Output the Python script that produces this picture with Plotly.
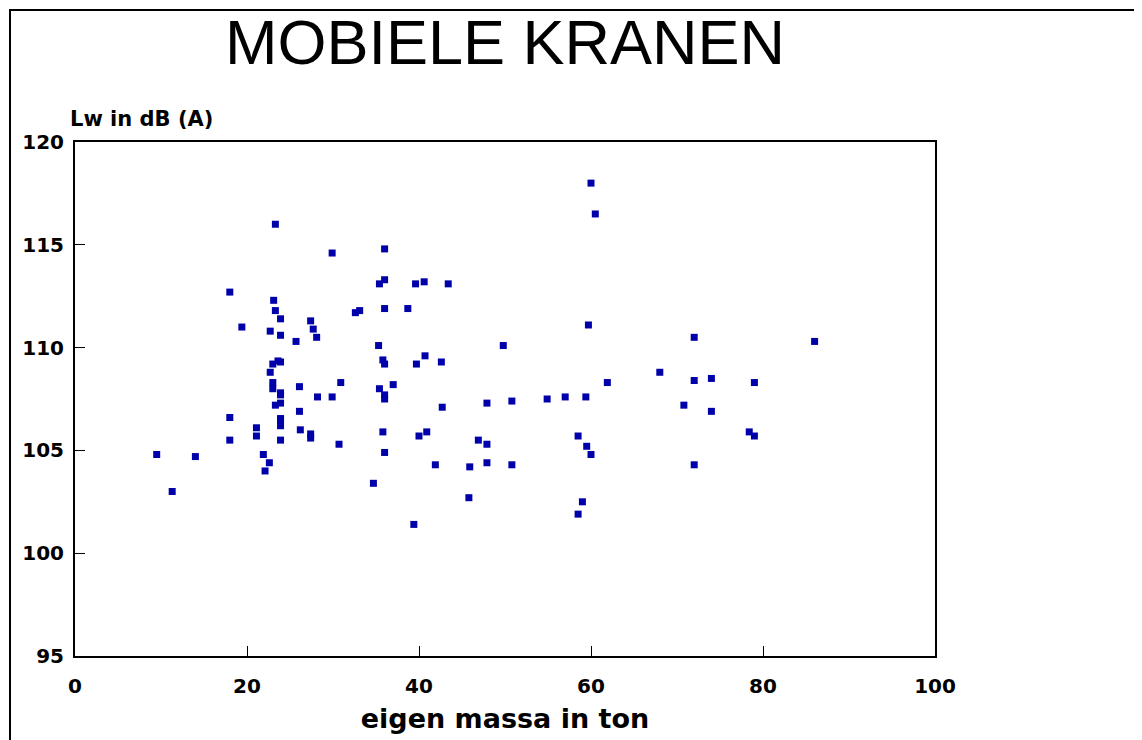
import plotly.graph_objects as go

# eigen massa (ton) en geluidvermogen Lw in dB(A)
massa = [
    9.5, 11.3, 14.0, 18.0, 18.0, 18.0, 19.4, 21.1, 21.1, 21.9,
    22.1, 22.6, 22.7, 22.7, 23.0, 23.0, 23.0, 23.1, 23.3, 23.3,
    23.3, 23.6, 23.9, 23.9, 23.9, 23.9, 23.9, 23.9, 23.9, 23.9,
    23.9, 23.9, 25.7, 26.1, 26.1, 26.2, 27.4, 27.4, 27.4, 27.7,
    28.1, 28.2, 29.9, 29.9, 30.7, 30.9, 32.6, 33.1, 34.7, 35.3,
    35.4, 35.4, 35.8, 35.8, 36.0, 36.0, 36.0, 36.0, 36.0, 36.0,
    36.0, 37.0, 38.7, 39.4, 39.6, 39.7, 40.0, 40.6, 40.7, 40.9,
    41.9, 42.6, 42.7, 43.4, 45.8, 45.9, 46.9, 47.9, 47.9, 47.9,
    49.8, 50.8, 50.8, 54.9, 57.0, 58.5, 58.5, 59.0, 59.4, 59.5,
    59.7, 60.0, 60.0, 60.5, 61.9, 68.0, 70.8, 72.0, 72.0, 72.0,
    74.0, 74.0, 78.4, 79.0, 79.0, 86.0,
]
lw = [
    104.8, 103.0, 104.7, 112.7, 106.6, 105.5, 111.0, 106.1, 105.7, 104.8,
    104.0, 104.4, 110.8, 108.8, 109.2, 108.3, 108.0, 112.3, 116.0, 111.8,
    107.2, 109.35, 109.3, 111.4, 110.6, 107.8, 107.3, 107.7, 106.55, 106.5,
    106.2, 105.5, 110.3, 108.1, 106.9, 106.0, 111.3, 105.8, 105.6, 110.9,
    110.5, 107.6, 114.6, 107.6, 105.3, 108.3, 111.7, 111.8, 103.4, 110.1,
    113.1, 108.0, 109.4, 105.9, 114.8, 113.3, 111.9, 109.2, 107.7, 107.5,
    104.9, 108.2, 111.9, 101.4, 113.1, 109.2, 105.7, 113.2, 109.6, 105.9,
    104.3, 109.3, 107.1, 113.1, 102.7, 104.2, 105.5, 107.3, 105.3, 104.4,
    110.1, 107.4, 104.3, 107.5, 107.6, 105.7, 101.9, 102.5, 107.6, 105.2,
    111.1, 118.0, 104.8, 116.5, 108.3, 108.8, 107.2, 110.5, 108.4, 104.3,
    108.5, 106.9, 105.9, 108.3, 105.7, 110.3,
]

x_ticks = [0, 20, 40, 60, 80, 100]
y_ticks = [95, 100, 105, 110, 115, 120]

TITLE_FONT = "Liberation Sans, Arial, sans-serif"
BOLD_FONT = "DejaVu Sans, Verdana, sans-serif"

# plotgebied in pixels (figuurcoördinaten)
L, T, W, H = 67, 134, 860, 514

fig = go.Figure(go.Scatter(
    x=massa, y=lw, mode="markers",
    marker=dict(symbol="square", size=7, color="#0000aa",
                line=dict(width=0)),
    showlegend=False,
))

axis_common = dict(
    showline=True, linecolor="#000000", linewidth=2, mirror=True,
    ticks="inside", ticklen=10, tickwidth=1, tickcolor="#000000",
    showgrid=False, zeroline=False,
    tickfont=dict(family=BOLD_FONT, size=20, color="#000000", weight="bold"),
)

fig.update_xaxes(range=[0, 100], tickvals=x_ticks, ticklabelstandoff=11,
                 title=dict(text="eigen massa in ton", standoff=12,
                            font=dict(family=BOLD_FONT, size=27,
                                      color="#000000", weight="bold")),
                 **axis_common)
fig.update_yaxes(range=[95, 120], tickvals=y_ticks, ticklabelstandoff=5,
                 **axis_common)

# y-as titel linksboven, boven de as
fig.add_annotation(text="Lw in dB (A)", xref="paper", yref="paper",
                   x=-0.008, y=1.0, xanchor="left", yanchor="bottom",
                   yshift=9, showarrow=False,
                   font=dict(family=BOLD_FONT, size=21, color="#000000",
                             weight="bold"))

# kader rond de hele tekening (loopt buiten beeld door)
fig.add_shape(type="rect", xref="paper", yref="paper",
              x0=(2 - L) / W, x1=1.4, y0=-0.3, y1=(T + H - 2) / H,
              line=dict(color="#000000", width=2), layer="above")

fig.update_layout(
    width=1142, height=740,
    margin=dict(l=L, r=1142 - L - W, t=T, b=740 - T - H),
    paper_bgcolor="#ffffff", plot_bgcolor="#ffffff",
    title=dict(text="MOBIELE KRANEN", x=497 / 1142, xanchor="center",
               y=1 - 34 / 740, yanchor="middle",
               font=dict(family=TITLE_FONT, size=63, color="#000000")),
)

fig.write_html("out.html")
